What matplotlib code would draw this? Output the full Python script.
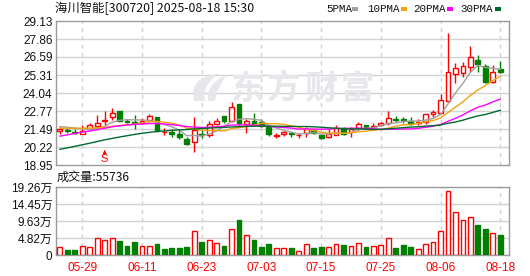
import numpy as np
import matplotlib
matplotlib.use("Agg")
import matplotlib.pyplot as plt
from matplotlib.patches import Polygon
from matplotlib.transforms import blended_transform_factory

plt.rcParams['font.family'] = ['Liberation Sans', 'Noto Sans CJK SC']

# ---- data ----
title = "海川智能[300720] 2025-08-18 15:30"
last_vol = 55736

dates = ["05-26", "05-27", "05-28", "05-29", "05-30", "06-03", "06-04", "06-05", "06-06", "06-09",
         "06-10", "06-11", "06-12", "06-13", "06-16", "06-17", "06-18", "06-19", "06-20", "06-23",
         "06-24", "06-25", "06-26", "06-27", "06-30", "07-01", "07-02", "07-03", "07-04", "07-07",
         "07-08", "07-09", "07-10", "07-11", "07-14", "07-15", "07-16", "07-17", "07-18", "07-21",
         "07-22", "07-23", "07-24", "07-25", "07-28", "07-29", "07-30", "07-31", "08-01", "08-04",
         "08-05", "08-06", "08-07", "08-08", "08-11", "08-12", "08-13", "08-14", "08-15", "08-18"]
shown_dates = ["05-29", "06-11", "06-23", "07-03", "07-15", "07-25", "08-06", "08-18"]

open_ = [21.38, 21.42, 21.31, 21.17, 21.47, 21.73, 22.06, 22.32, 22.77, 22.08,
         21.97, 21.90, 22.13, 22.37, 21.30, 21.31, 21.17, 20.81, 20.60, 21.17,
         21.07, 21.87, 22.41, 22.08, 23.26, 21.87, 22.06, 21.97, 21.61, 21.00,
         21.12, 21.24, 21.07, 21.24, 21.42, 21.07, 20.91, 21.10, 21.59, 21.26,
         21.59, 21.80, 21.66, 21.80, 21.90, 22.20, 22.20, 22.06, 21.93, 21.97,
         22.55, 22.60, 23.50, 25.36, 25.43, 25.90, 26.37, 25.97, 24.84, 25.71]
high = [21.66, 21.59, 21.47, 21.80, 21.90, 22.49, 22.77, 22.96, 22.77, 22.18,
        22.49, 22.25, 22.56, 22.37, 21.54, 21.47, 21.47, 20.95, 22.32, 21.45,
        22.06, 22.25, 22.43, 23.43, 23.26, 22.18, 22.60, 22.18, 21.71, 21.24,
        21.38, 21.31, 21.19, 21.61, 21.47, 21.12, 21.47, 21.78, 21.66, 21.61,
        22.01, 21.80, 21.90, 22.01, 22.79, 22.41, 22.37, 22.37, 22.18, 22.53,
        22.84, 23.97, 28.31, 26.14, 26.26, 27.39, 26.75, 26.07, 26.02, 26.30]
low = [21.12, 21.24, 21.12, 21.12, 21.42, 21.66, 21.78, 22.13, 22.06, 21.92,
       21.47, 21.83, 22.01, 21.33, 21.07, 20.91, 20.76, 20.33, 19.85, 20.88,
       20.95, 21.78, 21.90, 22.01, 21.78, 21.24, 21.71, 21.66, 21.02, 20.84,
       21.02, 20.95, 20.88, 20.95, 21.14, 20.79, 20.88, 21.07, 21.07, 20.95,
       21.42, 21.47, 21.47, 21.71, 21.78, 22.01, 21.94, 21.78, 21.78, 21.85,
       22.32, 22.60, 23.40, 24.72, 25.20, 25.55, 25.55, 24.72, 24.72, 25.43]
close = [21.50, 21.33, 21.24, 21.38, 21.80, 21.94, 22.10, 22.65, 22.08, 21.97,
         21.90, 22.08, 22.41, 21.33, 21.30, 21.12, 20.95, 20.41, 21.42, 21.05,
         21.85, 22.06, 22.06, 23.03, 21.90, 22.08, 21.82, 21.73, 21.14, 21.07,
         21.26, 21.14, 21.09, 21.47, 21.19, 20.88, 21.12, 21.57, 21.14, 21.49,
         21.87, 21.66, 21.73, 21.90, 22.25, 22.13, 22.13, 21.83, 21.98, 22.53,
         22.72, 23.55, 25.55, 25.83, 25.95, 26.61, 26.07, 24.79, 25.55, 25.53]

volume = [21700, 14200, 14200, 24500, 21700, 47200, 42500, 47200, 39600, 25500,
          36800, 24500, 24500, 31200, 17000, 19800, 19800, 22700, 67000, 36800,
          41500, 33000, 25500, 72700, 99100, 55700, 42500, 22700, 31200, 18900,
          18900, 19800, 10400, 30200, 19800, 22700, 21700, 30200, 27400, 24500,
          33000, 22700, 24500, 27400, 47200, 19800, 27400, 22700, 16000, 30200,
          35900, 67000, 180300, 120800, 98200, 106700, 85000, 73600, 61400, 55736]

ma5 = [21.66, 21.62, 21.56, 21.50, 21.45, 21.54, 21.69, 21.97, 22.11, 22.15,
       22.14, 22.14, 22.09, 21.94, 21.81, 21.65, 21.42, 21.02, 21.04, 20.99,
       21.14, 21.36, 21.69, 22.01, 22.18, 22.23, 22.18, 22.11, 21.73, 21.57,
       21.40, 21.27, 21.13, 21.19, 21.22, 21.14, 21.14, 21.25, 21.18, 21.24,
       21.44, 21.55, 21.58, 21.73, 21.88, 21.93, 22.03, 22.05, 22.06, 22.12,
       22.24, 22.52, 23.27, 24.04, 24.72, 25.50, 26.00, 25.85, 25.79, 25.71]
ma10 = [21.55, 21.55, 21.55, 21.55, 21.56, 21.58, 21.62, 21.68, 21.74, 21.80,
        21.84, 21.91, 22.03, 22.03, 21.98, 21.90, 21.78, 21.56, 21.49, 21.40,
        21.39, 21.39, 21.36, 21.53, 21.59, 21.68, 21.77, 21.90, 21.87, 21.87,
        21.82, 21.72, 21.62, 21.46, 21.39, 21.27, 21.20, 21.19, 21.19, 21.23,
        21.29, 21.34, 21.41, 21.46, 21.56, 21.69, 21.79, 21.81, 21.90, 22.00,
        22.09, 22.28, 22.66, 23.05, 23.42, 23.87, 24.26, 24.56, 24.92, 25.22]
ma20 = [20.99, 21.08, 21.18, 21.28, 21.35, 21.45, 21.55, 21.65, 21.72, 21.78,
        21.82, 21.85, 21.88, 21.88, 21.85, 21.80, 21.74, 21.67, 21.63, 21.60,
        21.62, 21.65, 21.69, 21.78, 21.78, 21.79, 21.77, 21.73, 21.68, 21.64,
        21.60, 21.56, 21.49, 21.50, 21.49, 21.48, 21.49, 21.54, 21.53, 21.55,
        21.55, 21.53, 21.52, 21.46, 21.48, 21.48, 21.50, 21.50, 21.54, 21.62,
        21.69, 21.81, 22.04, 22.25, 22.49, 22.78, 23.03, 23.19, 23.41, 23.61]
ma30 = [20.06, 20.16, 20.27, 20.38, 20.49, 20.61, 20.73, 20.83, 20.93, 21.02,
        21.11, 21.19, 21.26, 21.32, 21.36, 21.40, 21.43, 21.46, 21.50, 21.53,
        21.56, 21.59, 21.61, 21.64, 21.66, 21.68, 21.69, 21.70, 21.70, 21.69,
        21.68, 21.68, 21.67, 21.67, 21.65, 21.62, 21.58, 21.55, 21.52, 21.50,
        21.50, 21.49, 21.46, 21.48, 21.51, 21.55, 21.59, 21.63, 21.65, 21.70,
        21.73, 21.78, 21.90, 21.99, 22.12, 22.28, 22.42, 22.52, 22.67, 22.82]

price_ticks = ["18.95", "20.22", "21.49", "22.77", "24.04", "25.31", "26.59", "27.86", "29.13"]
vol_ticks = ["0", "4.82万", "9.63万", "14.45万", "19.26万"]
signal_idx = 6  # the red "S" mark

# ---- colours ----
RED = "#ff0000"
GREEN = "#008000"
FRAME = "#9a9a9a"
GRID = "#d2d2d2"
ma_cols = ["#a0a0a0", "#f2a20c", "#ff00ff", "#006a2e"]

o = np.array(open_); h = np.array(high); l = np.array(low); c = np.array(close)
v = np.array(volume)
x = np.arange(len(c))
up = c >= o
vol_up = c > o

W, H = 530, 276
fig = plt.figure(figsize=(W / 100, H / 100), dpi=100)
ax = fig.add_axes([56 / W, 1 - 165 / H, 453 / W, 144 / H])
axv = fig.add_axes([56 / W, 1 - 255 / H, 453 / W, 68 / H])

tick_pos = [dates.index(d) for d in shown_dates]

for a in (ax, axv):
    a.set_xlim(-0.52, 60.17)
    for s in a.spines.values():
        s.set_color(FRAME)
        s.set_linewidth(1)
    a.tick_params(length=0, labelsize=8.5, pad=2.5, colors="#111111")
    for t in tick_pos:
        a.axvline(t, color=GRID, lw=1, ls=(0, (3, 3)), zorder=0)

# price panel
lo_p, hi_p = float(price_ticks[0]), float(price_ticks[-1])
ax.set_ylim(lo_p, hi_p)
yt = np.linspace(lo_p, hi_p, len(price_ticks))
ax.set_yticks(yt)
ax.set_yticklabels(price_ticks)
for yy in yt[1:-1]:
    ax.axhline(yy, color=GRID, lw=1, zorder=0)
ax.set_xticks([])

# watermark
for ch, cx in zip("东方财富", [247, 284, 321, 357.5]):
    fig.text(cx / W, 1 - 89 / H, ch, fontsize=24, fontweight="bold", color="#e7e7eb",
             ha="center", va="center", family=["Noto Sans CJK SC"], zorder=0)
logo = [(194, 101), (193, 90), (198, 81), (207, 76), (220, 73), (212, 79), (206, 87),
        (204, 95), (205, 101)]
fig.patches.append(Polygon([(px / W, 1 - py / H) for px, py in logo], closed=True,
                           transform=fig.transFigure, fc="#e7e7eb", ec="none", zorder=0))
logo2 = [(208, 101), (208, 93), (212, 85), (220, 78), (226, 76), (221, 84), (217, 92),
         (215, 101)]
fig.patches.append(Polygon([(px / W, 1 - py / H) for px, py in logo2], closed=True,
                           transform=fig.transFigure, fc="#e7e7eb", ec="none", zorder=0))

cols = np.where(up, RED, GREEN)
faces = np.where(up, "white", GREEN)
ax.vlines(x, l, h, colors=cols, lw=1, zorder=3)
body_lo = np.minimum(o, c)
body_h = np.maximum(np.abs(c - o), 0.012)
ax.bar(x, body_h, bottom=body_lo, width=0.64, color=faces, edgecolor=cols, lw=1, zorder=4)

for ma, col in zip([ma5, ma10, ma20, ma30], ma_cols):
    ax.plot(x, ma, color=col, lw=1, zorder=5)

tr = blended_transform_factory(ax.transData, ax.transAxes)
ax.text(signal_idx, 0.04, "S", color=RED, fontsize=8, ha="center", va="center",
        transform=tr, zorder=6)
ax.annotate("", xy=(signal_idx, 0.105), xytext=(signal_idx, 0.07), xycoords=tr,
            textcoords=tr, arrowprops=dict(arrowstyle="-|>", color=RED, lw=0.8,
                                           mutation_scale=5), zorder=6)

# volume panel
vmax = 192600
axv.set_ylim(0, vmax)
vt = np.linspace(0, vmax, len(vol_ticks))
axv.set_yticks(vt)
axv.set_yticklabels(vol_ticks)
for yy in vt[1:-1]:
    axv.axhline(yy, color=GRID, lw=1, zorder=0)
vcols = np.where(vol_up, RED, GREEN)
vfaces = np.where(vol_up, "white", GREEN)
axv.bar(x, v, width=0.64, color=vfaces, edgecolor=vcols, lw=1, zorder=3)
axv.set_xticks(tick_pos)
axv.set_xticklabels(shown_dates, color=RED)
axv.tick_params(axis="x", pad=5)

# texts
fig.text(55 / W, 1 - 8.5 / H, title, fontsize=8.9, ha="left", va="center",
         family=["Noto Sans CJK SC"], color="#111111")
fig.text(57 / W, 1 - 177.5 / H, "成交量:%d" % last_vol, fontsize=8.7, ha="left",
         va="center", family=["Noto Sans CJK SC"], color="#111111")

legend = [("5PMA", 326, 352), ("10PMA", 367, 401), ("20PMA", 413, 447), ("30PMA", 460, 495)]
for (lab, tx, mx), col in zip(legend, ma_cols):
    fig.text(tx / W, 1 - 9 / H, lab, fontsize=7.8, ha="left", va="center",
             family=["Liberation Mono"], color="#111111")
    fig.patches.append(plt.Rectangle((mx / W, 1 - 10.5 / H), 6 / W, 3 / H,
                                     transform=fig.transFigure, fc=col, ec="none"))

fig.savefig("out.png", dpi=100)
